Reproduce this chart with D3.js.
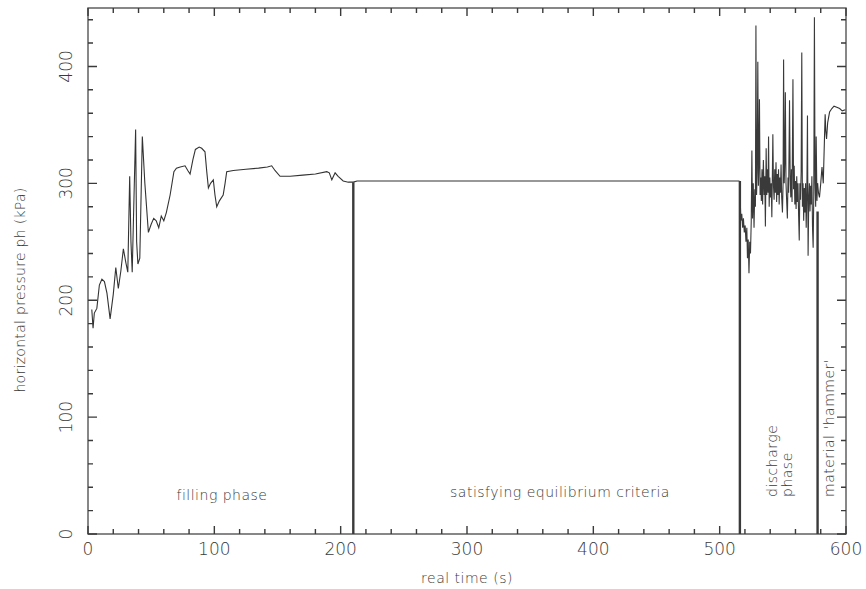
<!DOCTYPE html>
<html>
<head>
<meta charset="utf-8">
<script src="https://cdn.jsdelivr.net/npm/d3@7"></script>
<style>
  body { margin: 0; background: #fff; }
  svg { display: block; }
  .lbl { font-family: "DejaVu Sans", sans-serif; font-weight: 200; fill: #3a3a3a; }
</style>
</head>
<body>
<svg id="chart" width="866" height="589"></svg>
<script>
// ---------------- data ----------------
// [time (s), horizontal pressure (kPa)]
const fillingPhase = [
  [3, 192], [4, 176], [5, 189], [7, 193], [9, 213], [11, 218], [13, 216], [15, 206],
  [17.5, 184], [20, 205], [22, 228], [24, 210], [26, 225], [28, 244], [30, 232],
  [31.5, 224], [33, 306], [34, 250], [35, 224], [36, 270], [37.7, 346], [38.5, 250],
  [39.5, 231], [41, 236], [43, 340], [45, 300], [47.8, 258], [50, 265], [52, 270],
  [54, 268], [56, 262], [58, 272], [60, 268], [62, 275], [65, 290], [68, 310],
  [70, 313], [73, 314], [76.8, 315], [79, 311], [80.8, 308], [83, 320], [85, 329],
  [88, 331], [90, 330], [92.6, 327], [94, 310], [95.3, 296], [97, 300], [99.2, 303],
  [100.5, 290], [101.9, 280], [104, 285], [107, 290], [108.5, 300], [109.8, 310],
  [115, 311], [125, 312], [135, 313], [142, 314], [145.4, 315], [148, 311], [152, 306],
  [160, 306], [170, 307], [180, 308], [189, 310], [191, 309], [193, 303], [195.6, 309],
  [198, 306], [202, 302], [206, 301], [210, 301]
];

const equilibriumPhase = [[210, 301], [213, 302], [515.7, 302]];

const dischargePhase = [
  [515.7, 302], [516.2, 288], [516.8, 268], [517.5, 274], [518.2, 262], [518.8, 270],
  [519.5, 258], [520.2, 264], [520.8, 250], [521.5, 262], [522, 236], [522.6, 252],
  [523.2, 223], [523.8, 250], [524.4, 240], [525, 268], [525.5, 328], [526, 270],
  [526.6, 300], [527.2, 262], [527.8, 295], [528.3, 280], [528.7, 435], [529.2, 290],
  [529.7, 310], [530.2, 404], [530.7, 298], [531.1, 320], [531.5, 372], [532, 290],
  [532.5, 305], [533, 285], [533.5, 312], [534, 282], [534.6, 320], [535.2, 290],
  [535.7, 306], [536.2, 263], [536.8, 330], [537.3, 290], [537.8, 312], [538.3, 292],
  [538.7, 340], [539.2, 280], [539.7, 305], [540.2, 288], [540.8, 300], [541.3, 271],
  [541.8, 315], [542.1, 342], [542.6, 298], [543.1, 286], [543.6, 312], [544.1, 292],
  [544.6, 318], [545.1, 284], [545.6, 308], [546.1, 290], [546.6, 312], [547.1, 282],
  [547.6, 305], [548.1, 292], [548.6, 316], [549.1, 288], [549.7, 275], [550.2, 300],
  [550.6, 406], [551.1, 300], [551.6, 320], [552, 378], [552.5, 300], [553, 286],
  [553.6, 270], [554.1, 305], [554.6, 292], [555.3, 371], [555.8, 306], [556.3, 288],
  [556.8, 312], [557.3, 284], [558, 389], [558.5, 295], [559, 315], [559.5, 282],
  [560, 302], [560.5, 278], [561, 306], [561.5, 284], [562, 300], [562.5, 272],
  [563, 251], [563.5, 300], [564, 286], [564.5, 310], [565, 412], [565.5, 280],
  [566, 300], [566.5, 268], [567, 296], [567.5, 275], [568, 300], [568.5, 262],
  [569, 290], [569.5, 358], [570, 238], [570.5, 285], [571, 300], [571.5, 276],
  [572, 298], [572.5, 282], [573, 306], [573.5, 262], [574, 245], [574.5, 290],
  [575, 442], [575.5, 300], [576, 280], [576.4, 340], [577, 285], [577.5, 300]
];

const hammerPhase = [
  [577.5, 300], [578.2, 292], [579, 288], [580, 300], [581, 314], [582, 300],
  [583, 340], [583.5, 359], [584, 345], [584.6, 338], [585.5, 352], [587, 361],
  [588.8, 364], [590.5, 366], [592.7, 365], [595, 364], [597, 362], [599.5, 363]
];

// phase boundaries [time, top pressure]
const boundaries = [[210, 301], [516, 302], [577.5, 276]];

const xTicks = [0, 100, 200, 300, 400, 500, 600];
const yTicks = [0, 100, 200, 300, 400];

const xTitle = "real time (s)";
const yTitle = "horizontal pressure ph (kPa)";

// ---------------- layout ----------------
const svg = d3.select("#chart");
const plot = { left: 88, right: 846, top: 8, bottom: 534 };

const x = d3.scaleLinear().domain([0, 600]).range([plot.left, plot.right]);
const y = d3.scaleLinear().domain([0, 450]).range([plot.bottom, plot.top]);

const minorX = d3.range(0, 601, 20);
const minorY = d3.range(0, 451, 20);

// frame
svg.append("rect")
  .attr("x", plot.left).attr("y", plot.top)
  .attr("width", plot.right - plot.left).attr("height", plot.bottom - plot.top)
  .attr("fill", "none").attr("stroke", "#555").attr("stroke-width", 1.4);

// x tick labels
svg.append("g").selectAll("text")
  .data(xTicks)
  .join("text")
  .attr("class", "lbl")
  .attr("x", d => x(d)).attr("y", 555)
  .attr("text-anchor", "middle")
  .style("font-size", "17px")
  .text(d => d);

// rotated y tick labels
svg.append("g").selectAll("text")
  .data(yTicks)
  .join("text")
  .attr("class", "lbl")
  .attr("transform", d => `translate(72,${y(d)}) rotate(-90)`)
  .attr("text-anchor", "middle")
  .style("font-size", "17px")
  .text(d => d);

// axis titles
svg.append("text")
  .attr("class", "lbl")
  .attr("x", (plot.left + plot.right) / 2).attr("y", 583)
  .attr("text-anchor", "middle")
  .style("font-size", "14px")
  .style("letter-spacing", "0.5px")
  .text(xTitle);

svg.append("text")
  .attr("class", "lbl")
  .attr("transform", "translate(25,290) rotate(-90)")
  .attr("text-anchor", "middle")
  .style("font-size", "14px")
  .style("letter-spacing", "0.3px")
  .text(yTitle);

// ---------------- marks ----------------
const pathGen = d3.line().x(d => x(d[0])).y(d => y(d[1]));

svg.append("path").datum(fillingPhase)
  .attr("d", pathGen).attr("fill", "none")
  .attr("stroke", "#333").attr("stroke-width", 1.1);
svg.append("path").datum(equilibriumPhase)
  .attr("d", pathGen).attr("fill", "none")
  .attr("stroke", "#333").attr("stroke-width", 1.2);
svg.append("path").datum(dischargePhase)
  .attr("d", pathGen).attr("fill", "none")
  .attr("stroke", "#3a3a3a").attr("stroke-width", 1.1);
svg.append("path").datum(hammerPhase)
  .attr("d", pathGen).attr("fill", "none")
  .attr("stroke", "#333").attr("stroke-width", 1.1);

// phase boundaries
svg.append("g").selectAll("line")
  .data(boundaries)
  .join("line")
  .attr("x1", d => x(d[0])).attr("x2", d => x(d[0]))
  .attr("y1", d => y(d[1])).attr("y2", y(0))
  .attr("stroke", "#3a3a3a").attr("stroke-width", 2.4);

// phase labels
svg.append("text")
  .attr("class", "lbl")
  .attr("x", 222).attr("y", 500)
  .attr("text-anchor", "middle")
  .style("font-size", "14px")
  .style("letter-spacing", "0.5px")
  .text("filling phase");

svg.append("text")
  .attr("class", "lbl")
  .attr("x", 560).attr("y", 497)
  .attr("text-anchor", "middle")
  .style("font-size", "14px")
  .style("letter-spacing", "0.5px")
  .text("satisfying equilibrium criteria");

const vert = [
  { t: "discharge", x: 777 },
  { t: "phase", x: 792 },
  { t: "material  'hammer'", x: 834 }
];
svg.append("g").selectAll("text")
  .data(vert)
  .join("text")
  .attr("class", "lbl")
  .attr("transform", d => `translate(${d.x},497) rotate(-90)`)
  .attr("text-anchor", "start")
  .style("font-size", "14px")
  .style("letter-spacing", "0.5px")
  .text(d => d.t);

// ---------------- inward ticks, drawn last as one path ----------------
function tickPath() {
  const p = d3.path();
  minorX.forEach(v => {
    const len = xTicks.includes(v) ? 8 : 5;
    p.moveTo(x(v), plot.bottom); p.lineTo(x(v), plot.bottom - len);
    p.moveTo(x(v), plot.top); p.lineTo(x(v), plot.top + len);
  });
  minorY.forEach(v => {
    const len = yTicks.includes(v) ? 9 : 5;
    p.moveTo(plot.left, y(v)); p.lineTo(plot.left + len, y(v));
    p.moveTo(plot.right, y(v)); p.lineTo(plot.right - len, y(v));
  });
  return p.toString();
}
svg.append("path")
  .attr("d", tickPath())
  .attr("fill", "none")
  .attr("stroke", "#3a3a3a")
  .attr("stroke-width", 1.4);
</script>
</body>
</html>
